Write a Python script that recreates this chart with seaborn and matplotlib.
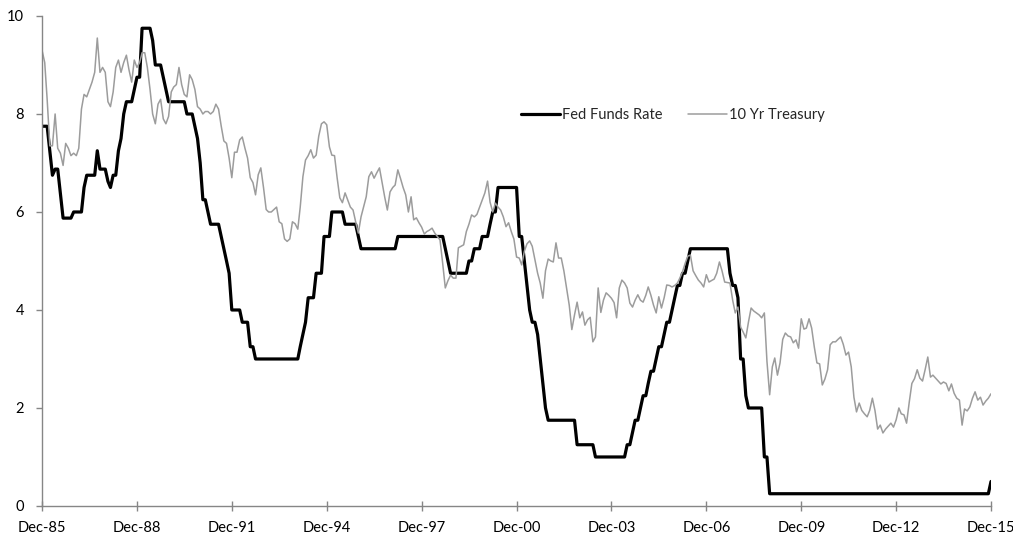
import pandas as pd
import seaborn as sns
import matplotlib.pyplot as plt

# month-end rates (%), Dec-85 first, then Jan..Dec of each year
fed_funds = [
    7.75,
    7.75, 7.75, 7.25, 6.75, 6.875, 6.875, 6.375, 5.875, 5.875, 5.875, 5.875, 6.0,    # 1986
    6.0, 6.0, 6.0, 6.5, 6.75, 6.75, 6.75, 6.75, 7.25, 6.875, 6.875, 6.875,           # 1987
    6.625, 6.5, 6.75, 6.75, 7.25, 7.5, 8.0, 8.25, 8.25, 8.25, 8.5, 8.75,             # 1988
    8.75, 9.75, 9.75, 9.75, 9.75, 9.5, 9.0, 9.0, 9.0, 8.75, 8.5, 8.25,               # 1989
    8.25, 8.25, 8.25, 8.25, 8.25, 8.25, 8.0, 8.0, 8.0, 7.75, 7.5, 7.0,               # 1990
    6.25, 6.25, 6.0, 5.75, 5.75, 5.75, 5.75, 5.5, 5.25, 5.0, 4.75, 4.0,              # 1991
    4.0, 4.0, 4.0, 3.75, 3.75, 3.75, 3.25, 3.25, 3.0, 3.0, 3.0, 3.0,                 # 1992
    3.0, 3.0, 3.0, 3.0, 3.0, 3.0, 3.0, 3.0, 3.0, 3.0, 3.0, 3.0,                      # 1993
    3.0, 3.25, 3.5, 3.75, 4.25, 4.25, 4.25, 4.75, 4.75, 4.75, 5.5, 5.5,              # 1994
    5.5, 6.0, 6.0, 6.0, 6.0, 6.0, 5.75, 5.75, 5.75, 5.75, 5.75, 5.5,                 # 1995
    5.25, 5.25, 5.25, 5.25, 5.25, 5.25, 5.25, 5.25, 5.25, 5.25, 5.25, 5.25,          # 1996
    5.25, 5.25, 5.5, 5.5, 5.5, 5.5, 5.5, 5.5, 5.5, 5.5, 5.5, 5.5,                    # 1997
    5.5, 5.5, 5.5, 5.5, 5.5, 5.5, 5.5, 5.5, 5.25, 5.0, 4.75, 4.75,                   # 1998
    4.75, 4.75, 4.75, 4.75, 4.75, 5.0, 5.0, 5.25, 5.25, 5.25, 5.5, 5.5,              # 1999
    5.5, 5.75, 6.0, 6.0, 6.5, 6.5, 6.5, 6.5, 6.5, 6.5, 6.5, 6.5,                     # 2000
    5.5, 5.5, 5.0, 4.5, 4.0, 3.75, 3.75, 3.5, 3.0, 2.5, 2.0, 1.75,                   # 2001
    1.75, 1.75, 1.75, 1.75, 1.75, 1.75, 1.75, 1.75, 1.75, 1.75, 1.25, 1.25,          # 2002
    1.25, 1.25, 1.25, 1.25, 1.25, 1.0, 1.0, 1.0, 1.0, 1.0, 1.0, 1.0,                 # 2003
    1.0, 1.0, 1.0, 1.0, 1.0, 1.25, 1.25, 1.5, 1.75, 1.75, 2.0, 2.25,                 # 2004
    2.25, 2.5, 2.75, 2.75, 3.0, 3.25, 3.25, 3.5, 3.75, 3.75, 4.0, 4.25,              # 2005
    4.5, 4.5, 4.75, 4.75, 5.0, 5.25, 5.25, 5.25, 5.25, 5.25, 5.25, 5.25,             # 2006
    5.25, 5.25, 5.25, 5.25, 5.25, 5.25, 5.25, 5.25, 4.75, 4.5, 4.5, 4.25,            # 2007
    3.0, 3.0, 2.25, 2.0, 2.0, 2.0, 2.0, 2.0, 2.0, 1.0, 1.0, 0.25,                    # 2008
    0.25, 0.25, 0.25, 0.25, 0.25, 0.25, 0.25, 0.25, 0.25, 0.25, 0.25, 0.25,          # 2009
    0.25, 0.25, 0.25, 0.25, 0.25, 0.25, 0.25, 0.25, 0.25, 0.25, 0.25, 0.25,          # 2010
    0.25, 0.25, 0.25, 0.25, 0.25, 0.25, 0.25, 0.25, 0.25, 0.25, 0.25, 0.25,          # 2011
    0.25, 0.25, 0.25, 0.25, 0.25, 0.25, 0.25, 0.25, 0.25, 0.25, 0.25, 0.25,          # 2012
    0.25, 0.25, 0.25, 0.25, 0.25, 0.25, 0.25, 0.25, 0.25, 0.25, 0.25, 0.25,          # 2013
    0.25, 0.25, 0.25, 0.25, 0.25, 0.25, 0.25, 0.25, 0.25, 0.25, 0.25, 0.25,          # 2014
    0.25, 0.25, 0.25, 0.25, 0.25, 0.25, 0.25, 0.25, 0.25, 0.25, 0.25, 0.5,           # 2015
]

treasury_10y = [
    9.3,
    9.05, 8.3, 7.35, 7.35, 8.0, 7.3, 7.2, 6.95, 7.4, 7.3, 7.15, 7.2,                 # 1986
    7.15, 7.3, 8.1, 8.4, 8.35, 8.5, 8.65, 8.85, 9.55, 8.85, 8.95, 8.85,              # 1987
    8.25, 8.15, 8.45, 8.95, 9.1, 8.85, 9.05, 9.2, 8.9, 8.65, 9.1, 8.95,              # 1988
    9.05, 9.25, 9.25, 8.95, 8.5, 8.0, 7.8, 8.2, 8.3, 7.9, 7.8, 7.95,                 # 1989
    8.45, 8.55, 8.6, 8.95, 8.6, 8.4, 8.35, 8.8, 8.7, 8.5, 8.15, 8.1,                 # 1990
    8.0, 8.05, 8.05, 8.0, 8.05, 8.2, 8.1, 7.75, 7.45, 7.4, 7.1, 6.7,                 # 1991
    7.22, 7.22, 7.47, 7.53, 7.3, 7.1, 6.7, 6.6, 6.35, 6.76, 6.9, 6.5,                # 1992
    6.05, 6.0, 6.0, 6.05, 6.1, 5.8, 5.76, 5.45, 5.4, 5.45, 5.8, 5.76,                # 1993
    5.65, 6.1, 6.72, 7.06, 7.15, 7.27, 7.1, 7.16, 7.55, 7.8, 7.84, 7.78,             # 1994
    7.33, 7.16, 7.15, 6.7, 6.29, 6.19, 6.39, 6.24, 6.1, 6.04, 5.8, 5.57,             # 1995
    5.9, 6.1, 6.31, 6.72, 6.82, 6.69, 6.8, 6.9, 6.61, 6.3, 6.04, 6.41,               # 1996
    6.5, 6.55, 6.86, 6.69, 6.5, 6.35, 6.0, 6.31, 5.84, 5.88, 5.78, 5.69,             # 1997
    5.55, 5.6, 5.63, 5.67, 5.57, 5.5, 5.43, 4.95, 4.45, 4.6, 4.71, 4.65,             # 1998
    4.65, 5.27, 5.3, 5.33, 5.6, 5.75, 5.94, 5.9, 5.95, 6.1, 6.25, 6.39,              # 1999
    6.63, 6.2, 6.0, 6.18, 6.1, 6.04, 5.9, 5.7, 5.78, 5.6, 5.45, 5.08,                # 2000
    5.06, 4.92, 5.2, 5.35, 5.41, 5.3, 5.02, 4.75, 4.55, 4.24, 4.8, 5.04,             # 2001
    5.0, 4.98, 5.37, 5.06, 5.06, 4.8, 4.45, 4.1, 3.6, 3.9, 4.16, 3.84,               # 2002
    3.96, 3.69, 3.8, 3.85, 3.35, 3.45, 4.45, 3.95, 4.2, 4.35, 4.3, 4.24,             # 2003
    4.15, 3.84, 4.45, 4.61, 4.55, 4.45, 4.14, 4.06, 4.2, 4.31, 4.2, 4.16,            # 2004
    4.3, 4.47, 4.3, 4.1, 3.94, 4.27, 4.04, 4.25, 4.51, 4.5, 4.47, 4.5,               # 2005
    4.55, 4.65, 4.78, 4.95, 5.1, 5.12, 4.8, 4.7, 4.61, 4.55, 4.47, 4.72,             # 2006
    4.57, 4.6, 4.63, 4.75, 4.98, 4.8, 4.57, 4.56, 4.55, 4.2, 3.94, 4.06,             # 2007
    3.65, 3.55, 3.43, 3.75, 4.04, 3.98, 3.94, 3.9, 3.84, 3.94, 2.95, 2.27,           # 2008
    2.84, 3.02, 2.67, 2.92, 3.4, 3.53, 3.47, 3.45, 3.33, 3.39, 3.22, 3.82,           # 2009
    3.61, 3.63, 3.82, 3.63, 3.24, 2.92, 2.9, 2.47, 2.59, 2.78, 3.29, 3.35,           # 2010
    3.35, 3.4, 3.45, 3.3, 3.08, 3.14, 2.84, 2.22, 1.92, 2.1, 1.95, 1.88,             # 2011
    1.82, 1.95, 2.2, 1.95, 1.57, 1.65, 1.49, 1.57, 1.63, 1.69, 1.61, 1.76,           # 2012
    2.0, 1.88, 1.86, 1.69, 2.12, 2.5, 2.6, 2.78, 2.61, 2.55, 2.78, 3.04,             # 2013
    2.63, 2.67, 2.61, 2.55, 2.49, 2.53, 2.5, 2.35, 2.49, 2.3, 2.2, 2.16,             # 2014
    1.65, 1.98, 1.94, 2.02, 2.2, 2.33, 2.16, 2.22, 2.06, 2.14, 2.2, 2.29,            # 2015
]

series_names = ['Fed Funds Rate', '10 Yr Treasury']
tick_labels = ['Dec-85', 'Dec-88', 'Dec-91', 'Dec-94', 'Dec-97', 'Dec-00',
               'Dec-03', 'Dec-06', 'Dec-09', 'Dec-12', 'Dec-15']
y_ticks = [0, 2, 4, 6, 8, 10]

months = pd.date_range('1985-12-31', periods=len(fed_funds), freq='ME')
df = pd.DataFrame({'date': months,
                   series_names[0]: fed_funds,
                   series_names[1]: treasury_10y})

sns.set_style('ticks')
plt.rcParams['font.family'] = ['Lato', 'DejaVu Sans']

axis_grey = '#868686'

fig = plt.figure(figsize=(10.13, 5.33), dpi=100)
ax = fig.add_axes([0.0415, 0.0507, 0.9368, 0.9193])

sns.lineplot(data=df, x='date', y=series_names[0], color='black',
             linewidth=2.3, label=series_names[0], ax=ax)
sns.lineplot(data=df, x='date', y=series_names[1], color='#9c9c9c',
             linewidth=1.1, label=series_names[1], ax=ax)

ax.set_xlim(months[0], months[-1])
ax.set_ylim(0, 10)
ax.set_xticks(months[::36])
ax.set_xticklabels(tick_labels)
ax.set_yticks(y_ticks)
ax.set_xlabel('')
ax.set_ylabel('')

for side in ['top', 'right']:
    ax.spines[side].set_visible(False)
for side in ['left', 'bottom']:
    ax.spines[side].set_color(axis_grey)
    ax.spines[side].set_linewidth(1.0)

ax.tick_params(axis='x', direction='inout', length=7, width=1.0,
               color=axis_grey, pad=7, labelsize=10.5, labelcolor='black')
ax.tick_params(axis='y', direction='out', length=4, width=1.0,
               color=axis_grey, pad=9, labelsize=10.5, labelcolor='black')

ax.legend(loc='center', bbox_to_anchor=(673 / 1013, 1 - 115 / 533),
          bbox_transform=fig.transFigure, ncol=2, frameon=False,
          handlelength=2.7, handletextpad=0.15, columnspacing=1.7,
          fontsize=10.5)

fig.savefig('out.png', dpi=100)
